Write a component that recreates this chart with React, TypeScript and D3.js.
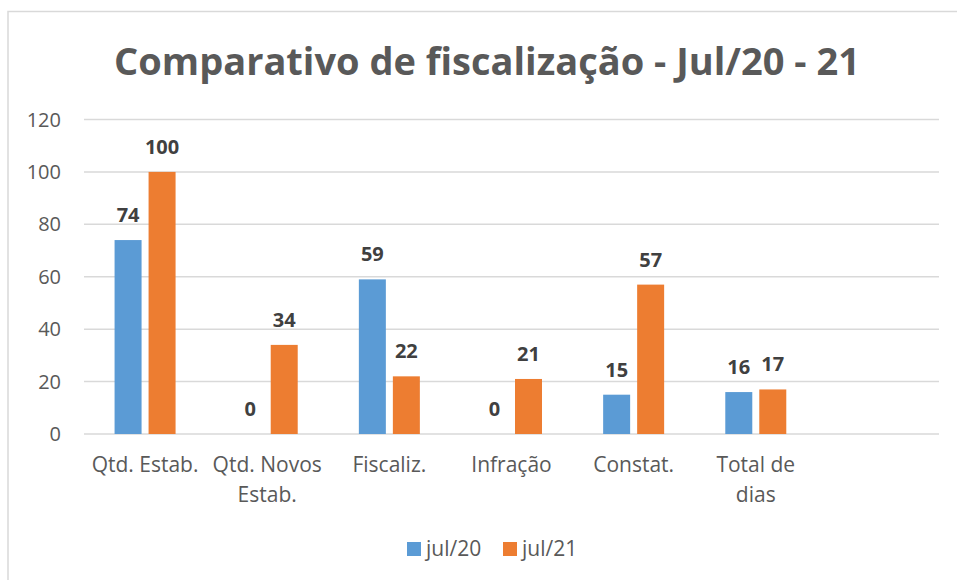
// Comparativo de fiscalização - grouped bar chart (jul/20 vs jul/21)

import { useEffect, useRef } from "react";
import * as d3 from "d3";

const categories = [
  "Qtd. Estab.",
  "Qtd. Novos Estab.",
  "Fiscaliz.",
  "Infração",
  "Constat.",
  "Total de dias",
  "",
];
const seriesNames = ["jul/20", "jul/21"];
const jul20 = [74, 0, 59, 0, 15, 16];
const jul21 = [100, 34, 22, 21, 57, 17];
const yTicks = [0, 20, 40, 60, 80, 100, 120];
const colors = ["#5B9BD5", "#ED7D31"];

const WIDTH = 957;
const HEIGHT = 580;
const FONT = "'Open Sans', sans-serif";

export default function App() {
  const svgRef = useRef<SVGSVGElement>(null);

  useEffect(() => {
    if (!svgRef.current) return;
    const svg = d3.select(svgRef.current);
    svg.selectAll("*").remove();

    // chart frame
    svg
      .append("rect")
      .attr("x", 8)
      .attr("y", 11.5)
      .attr("width", WIDTH + 20)
      .attr("height", HEIGHT + 20)
      .attr("fill", "#fff")
      .attr("stroke", "#d9d9d9")
      .attr("stroke-width", 1.5);

    // title
    svg
      .append("text")
      .attr("x", 487)
      .attr("y", 75)
      .attr("text-anchor", "middle")
      .attr("fill", "#595959")
      .style("font-family", FONT)
      .style("font-size", "38px")
      .style("font-weight", "bold")
      .text("Comparativo de fiscalização - Jul/20 - 21");

    const x = d3.scaleBand<string>().domain(categories.map((c, i) => String(i))).range([84, 939]);
    const xs = d3
      .scaleBand<string>()
      .domain(seriesNames)
      .range([-30.5, 30.5])
      .paddingInner(0.206);
    const y = d3.scaleLinear().domain([0, 120]).range([434, 119.5]);

    // gridlines
    svg
      .append("g")
      .selectAll("line")
      .data(yTicks)
      .join("line")
      .attr("x1", 84)
      .attr("x2", 939)
      .attr("y1", (d) => y(d))
      .attr("y2", (d) => y(d))
      .attr("stroke", "#d9d9d9")
      .attr("stroke-width", 1.5);

    // y tick labels
    svg
      .append("g")
      .selectAll("text")
      .data(yTicks)
      .join("text")
      .attr("x", 61)
      .attr("y", (d) => y(d))
      .attr("dy", "0.35em")
      .attr("text-anchor", "end")
      .attr("fill", "#595959")
      .style("font-family", FONT)
      .style("font-size", "20px")
      .text((d) => d);

    // bars
    const series = [jul20, jul21];
    series.forEach((vals, si) => {
      const g = svg.append("g");
      g.selectAll("rect")
        .data(vals)
        .join("rect")
        .attr("x", (d, i) => x(String(i))! + x.bandwidth() / 2 + xs(seriesNames[si])!)
        .attr("y", (d) => y(d))
        .attr("width", xs.bandwidth())
        .attr("height", (d) => y(0) - y(d))
        .attr("fill", colors[si]);

      g.selectAll("text")
        .data(vals)
        .join("text")
        .attr("x", (d, i) => x(String(i))! + x.bandwidth() / 2 + xs(seriesNames[si])! + xs.bandwidth() / 2)
        .attr("y", (d) => y(d) - 18)
        .attr("text-anchor", "middle")
        .attr("fill", "#404040")
        .style("font-family", FONT)
        .style("font-size", "20px")
        .style("font-weight", "bold")
        .text((d) => d);
    });

    // category labels with word wrap
    const catG = svg.append("g");
    categories.forEach((c, i) => {
      const cx = x(String(i))! + x.bandwidth() / 2;
      const t = catG
        .append("text")
        .attr("x", cx)
        .attr("y", 472)
        .attr("text-anchor", "middle")
        .attr("fill", "#595959")
        .style("font-family", FONT)
        .style("font-size", "21px");
      const words = c.split(" ").filter((w) => w);
      let line: string[] = [];
      let tspan = t.append("tspan").attr("x", cx).attr("dy", 0);
      words.forEach((w) => {
        line.push(w);
        tspan.text(line.join(" "));
        if ((tspan.node() as SVGTSpanElement).getComputedTextLength() > 118 && line.length > 1) {
          line.pop();
          tspan.text(line.join(" "));
          line = [w];
          tspan = t.append("tspan").attr("x", cx).attr("dy", 30).text(w);
        }
      });
    });

    // legend
    const legend = svg.append("g");
    const legendX = [407, 503];
    seriesNames.forEach((s, i) => {
      legend
        .append("rect")
        .attr("x", legendX[i])
        .attr("y", 542)
        .attr("width", 14)
        .attr("height", 14)
        .attr("fill", colors[i]);
      legend
        .append("text")
        .attr("x", legendX[i] + 19)
        .attr("y", 556)
        .attr("fill", "#595959")
        .style("font-family", FONT)
        .style("font-size", "21px")
        .text(s);
    });
  }, []);

  return (
    <svg
      ref={svgRef}
      width={WIDTH}
      height={HEIGHT}
      style={{ position: "absolute", left: 0, top: 0, background: "#fff" }}
    />
  );
}
